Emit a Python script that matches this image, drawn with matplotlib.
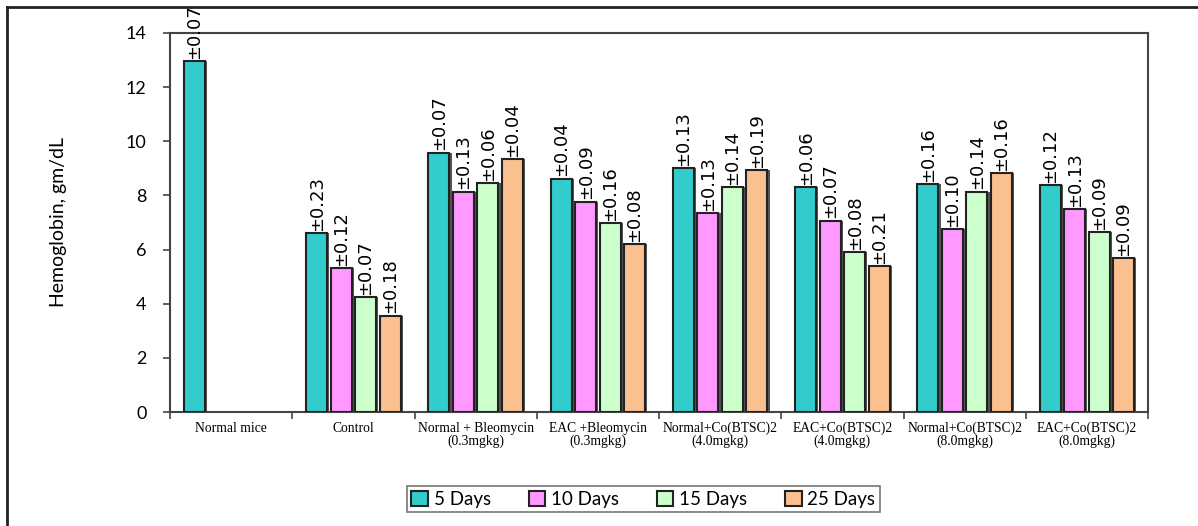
import numpy as np
import matplotlib.pyplot as plt
from matplotlib.lines import Line2D

# group labels (x axis) and series
groups = [
    "Normal mice",
    "Control",
    "Normal + Bleomycin\n(0.3mgkg)",
    "EAC +Bleomycin\n(0.3mgkg)",
    "Normal+Co(BTSC)2\n(4.0mgkg)",
    "EAC+Co(BTSC)2\n(4.0mgkg)",
    "Normal+Co(BTSC)2\n(8.0mgkg)",
    "EAC+Co(BTSC)2\n(8.0mgkg)",
]
series_names = ["5 Days", "10 Days", "15 Days", "25 Days"]

days5 = [12.95, 6.60, 9.58, 8.62, 9.00, 8.30, 8.41, 8.37]
days10 = [np.nan, 5.33, 8.14, 7.77, 7.34, 7.07, 6.75, 7.49]
days15 = [np.nan, 4.24, 8.46, 6.97, 8.30, 5.90, 8.14, 6.66]
days25 = [np.nan, 3.56, 9.35, 6.21, 8.94, 5.40, 8.84, 5.70]

err5 = ["0.07", "0.23", "0.07", "0.04", "0.13", "0.06", "0.16", "0.12"]
err10 = ["", "0.12", "0.13", "0.09", "0.13", "0.07", "0.10", "0.13"]
err15 = ["", "0.07", "0.06", "0.16", "0.14", "0.08", "0.14", "0.09"]
err25 = ["", "0.18", "0.04", "0.08", "0.19", "0.21", "0.16", "0.09"]

values = [days5, days10, days15, days25]
errors = [err5, err10, err15, err25]
colors = ["#33CCCC", "#FF99FF", "#CCFFCC", "#FAC090"]

fig = plt.figure(figsize=(11.98, 5.26), dpi=100)
ax = fig.add_axes([0.1419, 0.2167, 0.8164, 0.7206])

x = np.arange(len(groups))
pitch = 0.2
w = 0.172
for j, (vals, errs, c) in enumerate(zip(values, errors, colors)):
    xs = x + (j - 1.5) * pitch
    # soft shadow behind each bar, like the Excel original
    ax.bar(xs + 0.018, vals, width=w, color="#555555", linewidth=0, zorder=2)
    ax.bar(xs, vals, width=w, color=c, edgecolor="#222222", linewidth=1.5,
           label=series_names[j], zorder=3)
    for xi, v, e in zip(xs, vals, errs):
        if e:
            ax.text(xi, v + 0.08, "\u00b1" + e, rotation=90, ha="center",
                    va="bottom", fontsize=13, family="DejaVu Sans",
                    clip_on=False, zorder=4)

ax.set_xlim(-0.5, len(groups) - 0.5)
ax.set_ylim(0, 14)
ax.set_yticks(np.arange(0, 15, 2))
ax.set_xticks(x)
ax.set_xticklabels(groups, family="Liberation Serif", fontsize=9.8,
                   linespacing=0.95)
ax.set_xticks(np.arange(-0.5, len(groups), 1), minor=True)
ax.tick_params(axis="x", which="major", length=0, pad=7)
ax.tick_params(axis="x", which="minor", length=5, width=1.2, color="#444444")
ax.tick_params(axis="y", length=5, width=1.2, color="#444444",
               labelsize=13, pad=12)
for lab in ax.get_yticklabels():
    lab.set_family("Lato")
ax.set_ylabel("Hemoglobin, gm/dL", family="Lato", fontsize=14, labelpad=42)

for s in ax.spines.values():
    s.set_color("#444444")
    s.set_linewidth(1.5)

leg = ax.legend(loc="upper center", bbox_to_anchor=(0.484, -0.17), ncol=4,
                frameon=True, fancybox=False, edgecolor="#555555",
                prop={"family": "Lato", "size": 13.5}, handlelength=0.9,
                handleheight=0.9, handletextpad=0.3, columnspacing=2.0,
                borderpad=0.25)
leg.get_frame().set_linewidth(1.2)

# outer frame lines (top and left visible)
fig.add_artist(Line2D([0.006, 1.0], [0.986, 0.986], color="#222222", lw=2.0))
fig.add_artist(Line2D([0.006, 0.006], [0.0, 0.986], color="#222222", lw=2.0))

fig.savefig("out.png", dpi=100)
